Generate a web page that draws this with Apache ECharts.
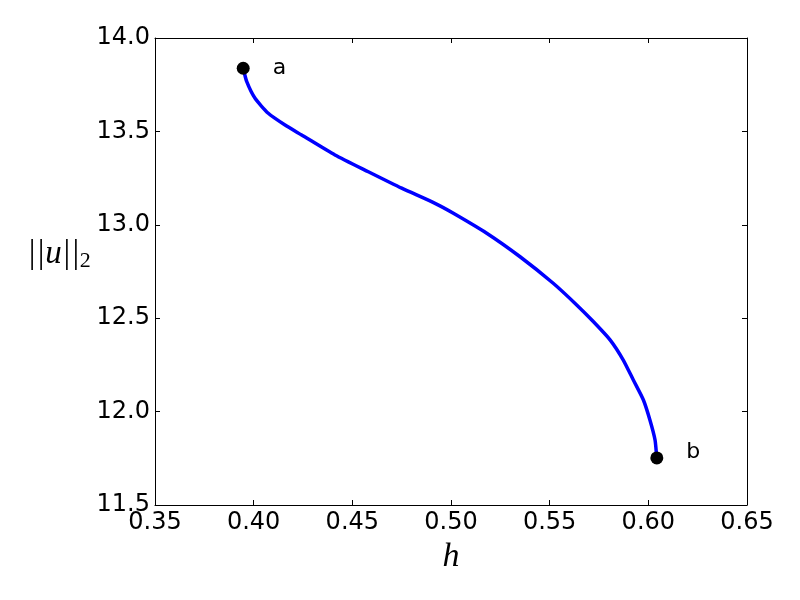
<!DOCTYPE html>
<html>
<head>
<meta charset="utf-8">
<script src="https://cdn.jsdelivr.net/npm/echarts@6/dist/echarts.min.js"></script>
<style>html,body{margin:0;padding:0;background:#fff}#c{width:800px;height:600px}</style>
</head>
<body>
<div id="c"></div>
<script>
// Curve data: h vs ||u||_2
var curveH = [0.3947, 0.3965, 0.4007, 0.4074, 0.4159, 0.4243, 0.4412, 0.4581, 0.4750, 0.4919, 0.5012, 0.5181, 0.5350, 0.5518, 0.5637, 0.5721, 0.5806, 0.5873, 0.5924, 0.5975, 0.6008, 0.6034, 0.6042];
var curveU = [13.838, 13.766, 13.677, 13.597, 13.534, 13.481, 13.374, 13.284, 13.196, 13.115, 13.062, 12.955, 12.829, 12.687, 12.571, 12.482, 12.384, 12.276, 12.169, 12.062, 11.955, 11.848, 11.759];
// Endpoints
var pointNames = ['a', 'b'];
var pointH = [0.3947, 0.6043];
var pointU = [13.838, 11.752];

var curveData = curveH.map(function (h, i) { return [h, curveU[i]]; });
var pointData = pointNames.map(function (n, i) {
  return {
    value: [pointH[i], pointU[i]],
    name: n,
    label: { offset: i === 0 ? [0, 0] : [0, -6] }
  };
});

var axisCommon = {
  axisLine: { show: true, lineStyle: { color: '#000', width: 1 } },
  axisTick: { show: true, inside: true, length: 5, lineStyle: { color: '#000' } },
  splitLine: { show: false }
};

var chart = echarts.init(document.getElementById('c'), null, { renderer: 'canvas' });
chart.setOption({
  backgroundColor: '#fff',
  animation: false,
  grid: { left: 155, top: 38, right: 53, bottom: 95, containLabel: false },
  xAxis: [
    Object.assign({
      type: 'value', min: 0.35, max: 0.65, interval: 0.05, position: 'bottom',
      axisLabel: { color: '#000', fontSize: 24, fontFamily: 'DejaVu Sans', margin: 6,
        formatter: function (v) { return v.toFixed(2); } },
      name: 'h', nameLocation: 'middle', nameGap: 35,
      nameTextStyle: { fontFamily: 'Liberation Serif', fontStyle: 'italic', fontSize: 34, color: '#000' }
    }, axisCommon),
    Object.assign({
      type: 'value', min: 0.35, max: 0.65, interval: 0.05, position: 'top',
      axisLabel: { show: false }
    }, axisCommon)
  ],
  yAxis: [
    Object.assign({
      type: 'value', min: 11.5, max: 14.0, interval: 0.5, position: 'left',
      axisLabel: { color: '#000', fontSize: 24, fontFamily: 'DejaVu Sans', margin: 5,
        formatter: function (v) { return v.toFixed(1); } }
    }, axisCommon),
    Object.assign({
      type: 'value', min: 11.5, max: 14.0, interval: 0.5, position: 'right',
      axisLabel: { show: false }
    }, axisCommon)
  ],
  graphic: [{
    type: 'text',
    left: 27, top: 238,
    style: {
      text: '{n|||u||}{s|2}',
      rich: {
        n: { fontFamily: 'Liberation Serif', fontStyle: 'italic', fontSize: 33, fill: '#000' },
        s: { fontFamily: 'Liberation Serif', fontSize: 22, fill: '#000', padding: [14, 0, 0, 0] }
      }
    }
  }],
  series: [
    {
      type: 'line', data: curveData, showSymbol: false, smooth: 0.2,
      lineStyle: { color: '#0000ff', width: 3.5 }, z: 2
    },
    {
      type: 'scatter', data: pointData, symbol: 'circle', symbolSize: 13,
      itemStyle: { color: '#000', opacity: 1 }, z: 3,
      emphasis: { disabled: true },
      label: { show: true, position: 'right', distance: 23, formatter: '{b}',
        color: '#000', opacity: 1, fontSize: 22, fontFamily: 'DejaVu Sans' }
    }
  ]
});
</script>
</body>
</html>
